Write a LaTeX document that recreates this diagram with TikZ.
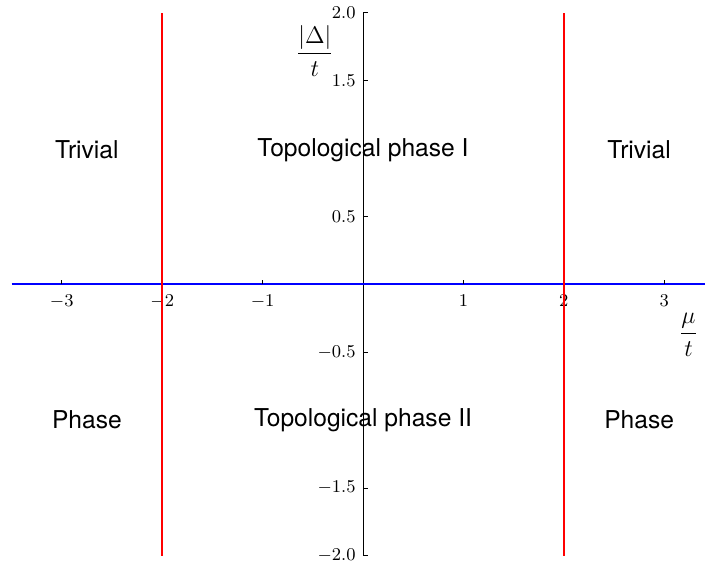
\documentclass[tikz,border=0pt]{standalone}
\usepackage{fontspec}
\newfontfamily\helv{TeX Gyre Heros}
\usetikzlibrary{positioning}

\begin{document}
\begin{tikzpicture}[
    x=50.2pt, y=67.9pt,
    region/.style={font=\helv\fontsize{12.3}{14}\selectfont},
    ticklabel/.style={font=\fontsize{9.5}{11}\selectfont, inner sep=1pt},
    axislabel/.style={font=\fontsize{13}{16}\selectfont, inner sep=0pt},
    spine/.style={black, line width=0.5pt},
    boundary/.style={red, line width=0.75pt},
    gapline/.style={blue, line width=1pt}
]
    \useasboundingbox (-3.6155,-2.067) rectangle (3.406,2.0935);

    % Phase labels
    \node[region] (trivL) at (-2.75, 0.99) {Trivial};
    \node[region] (topoI) at (0, 0.99) {Topological phase I};
    \node[region] (trivR) at (2.75, 0.99) {Trivial};
    \node[region] (phaseL) at (-2.75, -1) {Phase};
    \node[region] (topoII) at (0, -1) {Topological phase II};
    \node[region] (phaseR) at (2.75, -1) {Phase};

    % Vertical axis with ticks
    \draw[spine] (0,-2) -- (0,2);
    \draw[spine] (0,2) -- ++(2.5pt,0);
    \draw[spine] (0,1.5) -- ++(2.5pt,0);
    \draw[spine] (0,0.5) -- ++(2.5pt,0);
    \draw[spine] (0,-0.5) -- ++(2.5pt,0);
    \draw[spine] (0,-1.5) -- ++(2.5pt,0);
    \draw[spine] (0,-2) -- ++(2.5pt,0);
    \node[ticklabel, anchor=east] (y20) at (-0.05, 2) {$2.0$};
    \node[ticklabel, anchor=east] (y15) at (-0.05, 1.5) {$1.5$};
    \node[ticklabel, anchor=east] (y05) at (-0.05, 0.5) {$0.5$};
    \node[ticklabel, anchor=east] (ym05) at (-0.05, -0.5) {$-0.5$};
    \node[ticklabel, anchor=east] (ym15) at (-0.05, -1.5) {$-1.5$};
    \node[ticklabel, anchor=east] (ym20) at (-0.05, -2) {$-2.0$};

    % Horizontal line
    \draw[gapline] (-3.5,0) -- (3.406,0);

    % Ticks on the horizontal axis
    \draw[spine] (-3,0) -- ++(0,2pt);
    \draw[spine] (-2,0) -- ++(0,2pt);
    \draw[spine] (-1,0) -- ++(0,2pt);
    \draw[spine] (1,0) -- ++(0,2pt);
    \draw[spine] (2,0) -- ++(0,2pt);
    \draw[spine] (3,0) -- ++(0,2pt);
    \node[ticklabel, anchor=north] (xm3) at (-3, -0.06) {$-3$};
    \node[ticklabel, anchor=north] (xm2) at (-2, -0.06) {$-2$};
    \node[ticklabel, anchor=north] (xm1) at (-1, -0.06) {$-1$};
    \node[ticklabel, anchor=north] (x1) at (1, -0.06) {$1$};
    \node[ticklabel, anchor=north] (x2) at (2, -0.06) {$2$};
    \node[ticklabel, anchor=north] (x3) at (3, -0.06) {$3$};

    % Phase boundaries
    \draw[boundary] (-2,-2) -- (-2,2);
    \draw[boundary] (2,-2) -- (2,2);

    % Axis labels
    \node[axislabel] (ylab) at (-0.48, 1.72) {$\displaystyle\frac{|\Delta|}{t}$};
    \node[axislabel] (xlab) at (3.242, -0.37) {$\displaystyle\frac{\mu}{t}$};
\end{tikzpicture}
\end{document}
